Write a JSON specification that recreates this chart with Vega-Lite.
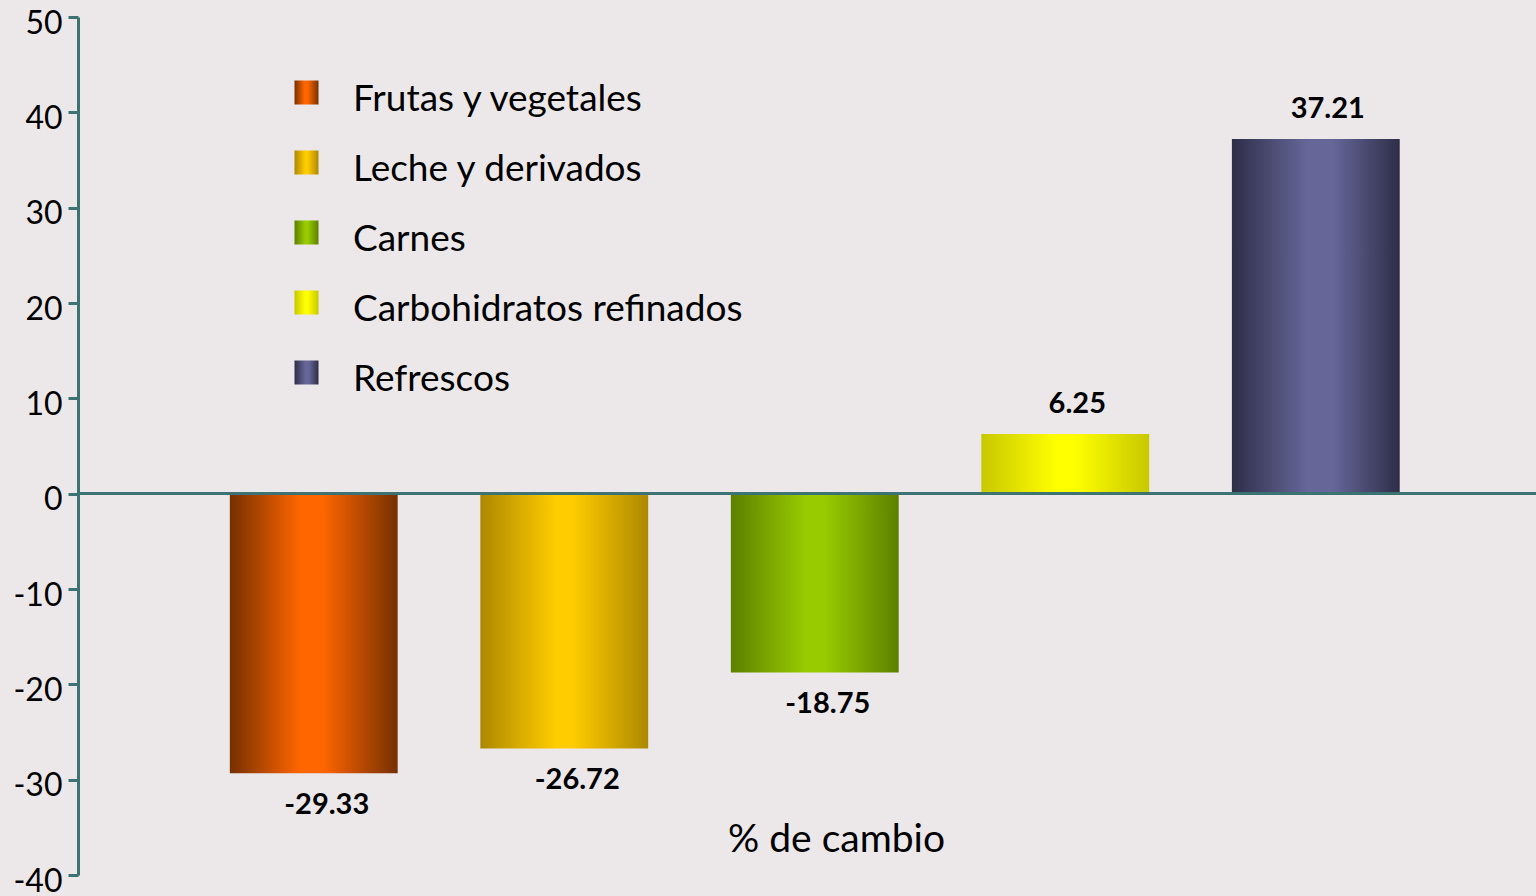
{
  "$schema": "https://vega.github.io/schema/vega-lite/v6.json",
  "width": 1458,
  "height": 858,
  "autosize": {"type": "none"},
  "padding": {"left": 78, "top": 17, "right": 0, "bottom": 21},
  "background": "#ECE8E9",
  "config": {
    "view": {"stroke": null},
    "font": "Lato",
    "axis": {"grid": false}
  },
  "data": {
    "values": [
      {"categoria": "Frutas y vegetales", "cambio": -29.33},
      {"categoria": "Leche y derivados", "cambio": -26.72},
      {"categoria": "Carnes", "cambio": -18.75},
      {"categoria": "Carbohidratos refinados", "cambio": 6.25},
      {"categoria": "Refrescos", "cambio": 37.21}
    ]
  },
  "encoding": {
    "x": {
      "field": "categoria",
      "type": "nominal",
      "sort": null,
      "scale": {"paddingInner": 0.33, "paddingOuter": 0.575, "align": 0.527},
      "axis": {
        "title": "% de cambio",
        "labels": false,
        "ticks": false,
        "domain": false,
        "titleFontSize": 39,
        "titleFontWeight": "normal",
        "titleColor": "#000000",
        "titleFont": "Lato",
        "titleBaseline": "alphabetic",
        "titleAlign": "center",
        "titleAnchor": "start",
        "titleX": 758,
        "titleY": -24
      }
    },
    "y": {
      "field": "cambio",
      "type": "quantitative",
      "scale": {"domain": [-40, 50], "nice": false, "zero": false},
      "axis": {
        "title": null,
        "values": [-40, -30, -20, -10, 0, 10, 20, 30, 40, 50],
        "labelExpr": "'' + datum.value",
        "labelFontSize": 32,
        "labelColor": "#000000",
        "labelPadding": 6,
        "labelOffset": 6,
        "labelBound": false,
        "tickSize": 10,
        "tickWidth": 3,
        "tickColor": "#3D7272",
        "domainColor": "#3D7272",
        "domainWidth": 3
      }
    }
  },
  "layer": [
    {
      "mark": {"type": "bar"},
      "encoding": {
        "color": {
          "field": "categoria",
          "type": "nominal",
          "sort": null,
          "scale": {
            "domain": ["Frutas y vegetales", "Leche y derivados", "Carnes", "Carbohidratos refinados", "Refrescos"],
            "range": [
              {"expr": "{gradient: 'linear', x1: 0, y1: 0, x2: 1, y2: 0, stops: [{offset: 0, color: '#763000'}, {offset: 0.42, color: '#FF6600'}, {offset: 0.55, color: '#FF6600'}, {offset: 1, color: '#763000'}]}"},
              {"expr": "{gradient: 'linear', x1: 0, y1: 0, x2: 1, y2: 0, stops: [{offset: 0, color: '#AD8800'}, {offset: 0.45, color: '#FFCC00'}, {offset: 0.55, color: '#FFCC00'}, {offset: 1, color: '#AD8800'}]}"},
              {"expr": "{gradient: 'linear', x1: 0, y1: 0, x2: 1, y2: 0, stops: [{offset: 0, color: '#5C8000'}, {offset: 0.45, color: '#99CC00'}, {offset: 0.55, color: '#99CC00'}, {offset: 1, color: '#5C8000'}]}"},
              {"expr": "{gradient: 'linear', x1: 0, y1: 0, x2: 1, y2: 0, stops: [{offset: 0, color: '#C8C800'}, {offset: 0.45, color: '#FFFF00'}, {offset: 0.55, color: '#FFFF00'}, {offset: 1, color: '#C8C800'}]}"},
              {"expr": "{gradient: 'linear', x1: 0, y1: 0, x2: 1, y2: 0, stops: [{offset: 0, color: '#2E2E48'}, {offset: 0.45, color: '#666699'}, {offset: 0.6, color: '#666699'}, {offset: 1, color: '#2E2E48'}]}"}
            ]
          },
          "legend": {
            "title": null,
            "orient": "none",
            "legendX": 210,
            "legendY": 57,
            "symbolType": "square",
            "symbolSize": 576,
            "symbolStrokeWidth": 0,
            "symbolOpacity": 1,
            "labelFontSize": 37,
            "labelColor": "#000000",
            "labelOffset": 28,
            "rowPadding": 26,
            "labelLimit": 600,
            "encode": {"labels": {"update": {"dy": {"value": 7}}}}
          }
        }
      }
    },
    {
      "mark": {"type": "rule", "color": "#3D7272", "strokeWidth": 2.5},
      "encoding": {
        "y": {"datum": 0, "type": "quantitative"},
        "x": null
      }
    },
    {
      "transform": [{"filter": "datum.cambio >= 0"}],
      "mark": {"type": "text", "baseline": "alphabetic", "dy": -21, "dx": 12, "fontSize": 29, "fontWeight": "bold", "color": "#000000"},
      "encoding": {"text": {"field": "cambio", "type": "nominal"}}
    },
    {
      "transform": [{"filter": "datum.cambio < 0"}],
      "mark": {"type": "text", "baseline": "top", "dy": 18, "dx": 13, "fontSize": 29, "fontWeight": "bold", "color": "#000000"},
      "encoding": {"text": {"field": "cambio", "type": "nominal"}}
    }
  ]
}
